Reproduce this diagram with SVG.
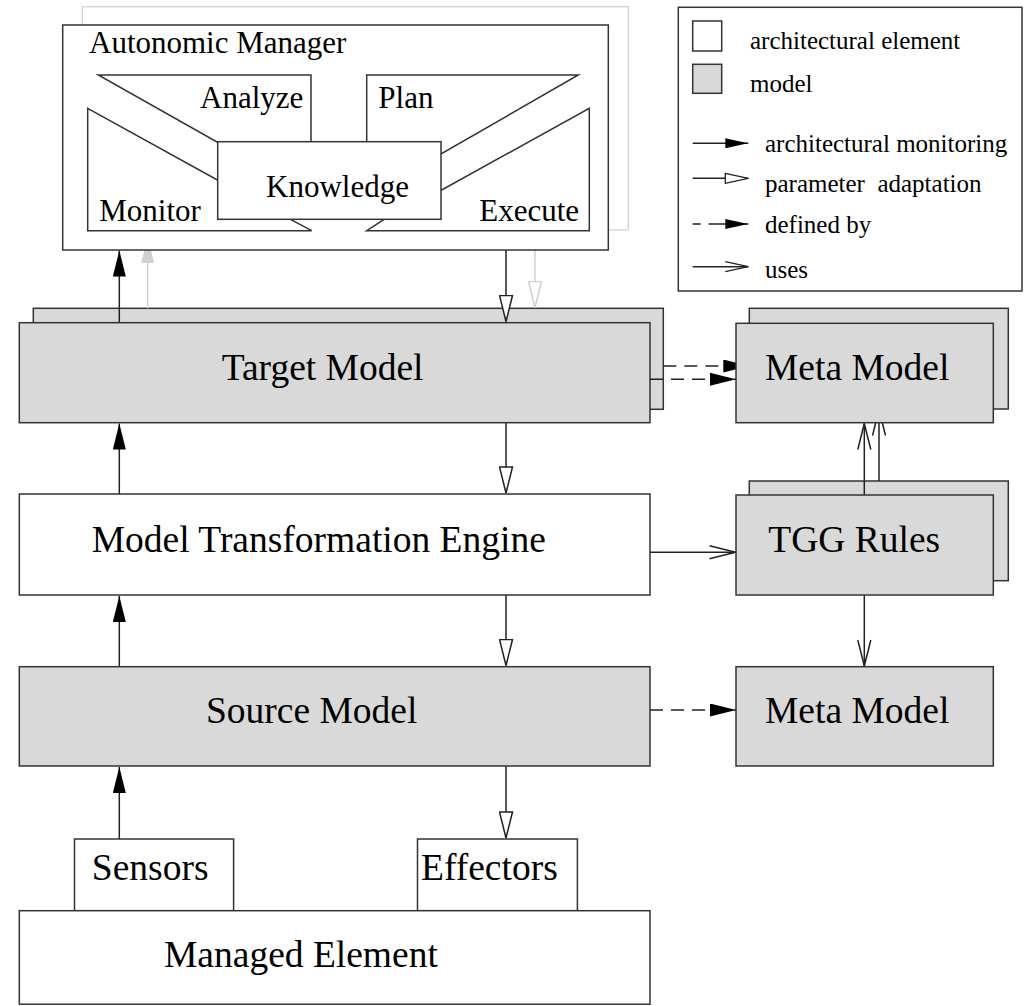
<svg xmlns="http://www.w3.org/2000/svg" width="1030" height="1006" viewBox="0 0 1030 1006">
<style>
.box{stroke:#333;stroke-width:1.5;fill:#fff}
.model{fill:#d9d9d9}
.ghost{stroke:#d8d8d8;stroke-width:1.5;fill:#fff}
.ln{stroke:#222;stroke-width:1.5;fill:none}
.gl{stroke:#d0d0d0;stroke-width:1.5;fill:none}
.dash{stroke-dasharray:13 8}
text{font-family:"Liberation Serif","Times New Roman",serif;fill:#000}
.lbl{font-size:37.5px}
.am{font-size:31px}
.leg{font-size:25px}
</style>
<defs>
<marker id="mFill" markerUnits="userSpaceOnUse" viewBox="0 0 26 13" refX="26" refY="6.5" markerWidth="26" markerHeight="13" orient="auto"><path d="M0,0 L26,6.5 L0,13 Z" fill="#000"/></marker>
<marker id="mHollow" markerUnits="userSpaceOnUse" viewBox="-1 -1 28 15" refX="26" refY="6.5" markerWidth="28" markerHeight="15" orient="auto"><path d="M0,0 L26,6.5 L0,13 Z" fill="#fff" stroke="#222" stroke-width="1.5"/></marker>
<marker id="mOpen" markerUnits="userSpaceOnUse" viewBox="-1 -1 28 15" refX="26" refY="6.5" markerWidth="28" markerHeight="15" orient="auto"><path d="M0,0 L26,6.5 L0,13" fill="none" stroke="#222" stroke-width="1.5"/></marker>
<marker id="mGrayFill" markerUnits="userSpaceOnUse" viewBox="0 0 26 13" refX="26" refY="6.5" markerWidth="26" markerHeight="13" orient="auto"><path d="M0,0 L26,6.5 L0,13 Z" fill="#d0d0d0"/></marker>
<marker id="mGrayHollow" markerUnits="userSpaceOnUse" viewBox="-1 -1 28 15" refX="26" refY="6.5" markerWidth="28" markerHeight="15" orient="auto"><path d="M0,0 L26,6.5 L0,13 Z" fill="#fff" stroke="#d0d0d0" stroke-width="1.5"/></marker>
<marker id="lFill" markerUnits="userSpaceOnUse" viewBox="0 0 23 10" refX="23" refY="5" markerWidth="23" markerHeight="10" orient="auto"><path d="M0,0 L23,5 L0,10 Z" fill="#000"/></marker>
<marker id="lHollow" markerUnits="userSpaceOnUse" viewBox="-1 -1 25 12" refX="23" refY="5" markerWidth="25" markerHeight="12" orient="auto"><path d="M0,0 L23,5 L0,10 Z" fill="#fff" stroke="#222" stroke-width="1.3"/></marker>
<marker id="lOpen" markerUnits="userSpaceOnUse" viewBox="-1 -1 25 12" refX="23" refY="5" markerWidth="25" markerHeight="12" orient="auto"><path d="M0,0 L23,5 L0,10" fill="none" stroke="#222" stroke-width="1.3"/></marker>
</defs>

<!-- back layers (stacked copies) -->
<g id="autonomic-manager-back"><rect class="ghost" x="82.3" y="6.7" width="546" height="223.3"/></g>
<g id="target-model-back"><rect class="box model" x="33.3" y="308.3" width="630" height="101"/></g>
<g id="meta-model-top-back"><rect class="box model" x="749.3" y="308.3" width="259" height="100.7"/></g>
<g id="tgg-rules-back"><rect class="box model" x="749.3" y="481" width="259" height="99.7"/></g>

<g id="connectors">
  <!-- gray (background manager) -->
  <line class="gl" x1="147.7" y1="308.3" x2="147.7" y2="237" marker-end="url(#mGrayFill)"/>
  <line class="gl" x1="535" y1="230" x2="535" y2="307.5" marker-end="url(#mGrayHollow)"/>
  <!-- architectural monitoring -->
  <line class="ln" x1="119.3" y1="322.7" x2="119.3" y2="250.5" marker-end="url(#mFill)"/>
  <line class="ln" x1="119.3" y1="494" x2="119.3" y2="423.5" marker-end="url(#mFill)"/>
  <line class="ln" x1="119.3" y1="666.7" x2="119.3" y2="596" marker-end="url(#mFill)"/>
  <line class="ln" x1="119.3" y1="839" x2="119.3" y2="767" marker-end="url(#mFill)"/>
  <!-- parameter adaptation -->
  <line class="ln" x1="506" y1="250" x2="506" y2="321.5" marker-end="url(#mHollow)"/>
  <line class="ln" x1="506" y1="422.7" x2="506" y2="493" marker-end="url(#mHollow)"/>
  <line class="ln" x1="506" y1="595" x2="506" y2="665.5" marker-end="url(#mHollow)"/>
  <line class="ln" x1="506" y1="766" x2="506" y2="838" marker-end="url(#mHollow)"/>
  <!-- defined by -->
  <line class="ln dash" x1="663.3" y1="366" x2="749.3" y2="366" marker-end="url(#mFill)"/>
  <line class="ln dash" x1="650" y1="379.3" x2="736" y2="379.3" marker-end="url(#mFill)"/>
  <line class="ln dash" x1="650" y1="710" x2="736" y2="710" marker-end="url(#mFill)"/>
  <!-- uses -->
  <line class="ln" x1="650" y1="552.3" x2="735.5" y2="552.3" marker-end="url(#mOpen)"/>
  <line class="ln" x1="864.3" y1="495" x2="864.3" y2="423.5" marker-end="url(#mOpen)"/>
  <line class="ln" x1="879" y1="481" x2="879" y2="409.5" marker-end="url(#mOpen)"/>
  <line class="ln" x1="864.3" y1="595" x2="864.3" y2="666" marker-end="url(#mOpen)"/>
</g>

<g id="autonomic-manager">
  <rect class="box" x="62.7" y="25" width="545.6" height="225"/>
  <text class="am" x="89" y="53">Autonomic Manager</text>
  <g id="analyze"><polygon class="box" points="98.3,75 311,75 311,160 240,155"/><text class="am" x="200" y="108">Analyze</text></g>
  <g id="plan"><polygon class="box" points="366.7,75 578.3,75 420,166 366.7,166"/><text class="am" x="378.3" y="108">Plan</text></g>
  <g id="monitor"><polygon class="box" points="87.7,108.3 250,198 311.7,230.7 87.7,230.7"/><text class="am" x="99.3" y="220.7">Monitor</text></g>
  <g id="execute"><polygon class="box" points="589.3,108.3 589.3,230.7 366.7,230.7 400,209 420,202"/><text class="am" x="479.3" y="220.7">Execute</text></g>
  <g id="knowledge"><rect class="box" x="217.7" y="141.7" width="223.3" height="77.6"/><text class="am" x="266" y="197">Knowledge</text></g>
</g>

<g id="target-model"><rect class="box model" x="19.3" y="322.7" width="630.7" height="100"/><text class="lbl" x="221.7" y="380">Target Model</text></g>
<g id="meta-model-top"><rect class="box model" x="736" y="323.3" width="257.3" height="99.4"/><text class="lbl" x="765" y="380">Meta Model</text></g>
<g id="model-transformation-engine"><rect class="box" x="19.3" y="494" width="630.7" height="101"/><text class="lbl" x="91.7" y="551.7">Model Transformation Engine</text></g>
<g id="tgg-rules"><rect class="box model" x="736" y="495" width="257.3" height="100"/><text class="lbl" x="768.3" y="551.7">TGG Rules</text></g>
<g id="source-model"><rect class="box model" x="19.3" y="666.7" width="630.7" height="99.3"/><text class="lbl" x="206" y="723.3">Source Model</text></g>
<g id="meta-model-bottom"><rect class="box model" x="736" y="666.7" width="257.3" height="99.3"/><text class="lbl" x="765" y="723.3">Meta Model</text></g>
<g id="sensors"><rect class="box" x="74.5" y="839" width="159.1" height="71.7"/><text class="lbl" x="91.8" y="880">Sensors</text></g>
<g id="effectors"><rect class="box" x="417.5" y="839" width="159.9" height="71.7"/><text class="lbl" x="421" y="880">Effectors</text></g>
<g id="managed-element"><rect class="box" x="19.3" y="910.7" width="630.7" height="93.5"/><text class="lbl" x="164" y="966.7">Managed Element</text></g>

<g id="legend">
  <rect class="box" x="678.3" y="7.3" width="343.7" height="283.7"/>
  <rect class="box" x="692.7" y="21" width="29" height="30"/>
  <text class="leg" x="750" y="49.3">architectural element</text>
  <rect class="box model" x="692.7" y="64.3" width="29" height="29"/>
  <text class="leg" x="750" y="91.7">model</text>
  <line class="ln" x1="692.7" y1="143.3" x2="748.3" y2="143.3" marker-end="url(#lFill)"/>
  <text class="leg" x="765" y="151.7">architectural monitoring</text>
  <line class="ln" x1="692.7" y1="178.3" x2="748.3" y2="178.3" marker-end="url(#lHollow)"/>
  <text class="leg" x="765" y="191.7" xml:space="preserve">parameter  adaptation</text>
  <line class="ln" x1="692.7" y1="224" x2="700.7" y2="224"/>
  <line class="ln" x1="708.7" y1="224" x2="748.3" y2="224" marker-end="url(#lFill)"/>
  <text class="leg" x="765" y="233.3">defined by</text>
  <line class="ln" x1="692.7" y1="266.7" x2="748.3" y2="266.7" marker-end="url(#lOpen)"/>
  <text class="leg" x="765" y="277.7">uses</text>
</g>
</svg>
